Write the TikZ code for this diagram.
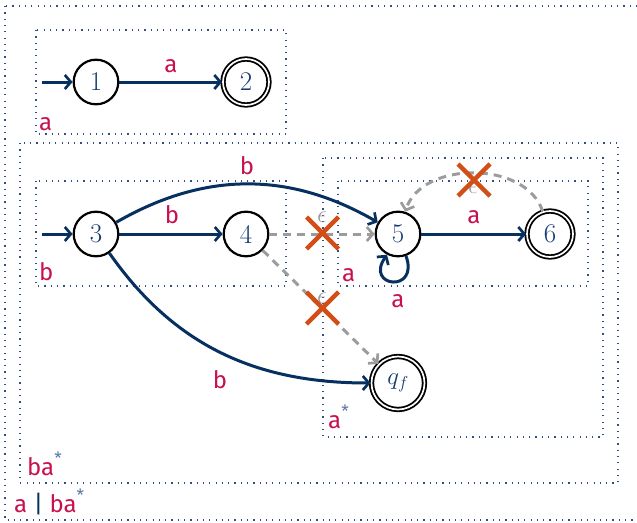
\documentclass[tikz,border=0pt]{standalone}
\usepackage{fontspec}
\newfontfamily\lblfont{Fira Sans}
\usetikzlibrary{arrows.meta}
\definecolor{navy}{HTML}{06305F}
\definecolor{nodetext}{HTML}{153E70}
\definecolor{lblred}{HTML}{C8104C}
\definecolor{crossorange}{HTML}{D24E16}
\definecolor{epsgray}{HTML}{9C9C9C}
\definecolor{boxdot}{HTML}{2F5080}
\definecolor{starblue}{HTML}{5A7AA4}
\tikzset{
  x=1pt, y=-1pt,
  tip/.style={-{Straight Barb[length=6pt,width=14pt,line width=2.7pt]}},
  state/.style={circle, draw=black, line width=2.2pt, minimum size=44.6pt, inner sep=0pt,
    text=nodetext, font=\fontsize{27}{30}\selectfont},
  accept/.style={state, line width=1.8pt, double=white, double distance=1.7pt, minimum size=46pt},
  trans/.style={navy, line width=3pt, tip},
  eps/.style={epsgray, line width=3pt, dash pattern=on 8pt off 6pt, tip},
  groupbox/.style={boxdot, line width=1.2pt, dash pattern=on 1.2pt off 5.1pt},
  lbl/.style={text=lblred, font=\lblfont\fontsize{24}{27}\selectfont, inner sep=0pt},
  epslbl/.style={text=epsgray, font=\fontsize{24}{26}\selectfont, inner sep=0pt},
  xmark/.style={crossorange, line width=4.5pt},
}
\newcommand{\strs}{\textcolor{starblue}{\raisebox{0.42em}{\fontsize{17}{18}\selectfont*}}}
\begin{document}
\begin{tikzpicture}
\useasboundingbox (0,0) rectangle (637,522);
% boxes
\draw[groupbox] (5,6) rectangle (645,520);
\draw[groupbox] (20,143) rectangle (618,483);
\draw[groupbox] (36,30) rectangle (286,134);
\draw[groupbox] (36,181) rectangle (286,286);
\draw[groupbox] (323,158) rectangle (603,437);
\draw[groupbox] (338,181) rectangle (588,286);
% box labels
\node[lbl, anchor=base west] (la) at (39,130) {a};
\node[lbl, anchor=base west] (lb) at (39,280) {b};
\node[lbl, anchor=base west] (la2) at (342,281) {a};
\node[lbl, anchor=base west] (last) at (328,428) {a\strs};
\node[lbl, anchor=base west] (lbast) at (27,475) {ba\strs};
\node[lbl, anchor=base west] (lall) at (14,512) {a \textcolor{navy}{|} ba\strs};
% states
\node[state] (n1) at (96,82) {1};
\node[accept] (n2) at (246,82) {2};
\node[state] (n3) at (96,234) {3};
\node[state] (n4) at (246,234) {4};
\node[state] (n5) at (398,234) {5};
\node[accept] (n6) at (550,234) {6};
\node[accept, minimum size=53pt] (qf) at (398,383) {$q_f$};
\coordinate (i1) at (42,82);
\coordinate (i3) at (42,234);
% transitions
\draw[trans] (i1) -- (n1);
\draw[trans] (i3) -- (n3);
\draw[trans] (n1) -- (n2);
\draw[trans] (n3) -- (n4);
\draw[trans] (n3) to[bend left=30] (n5);
\draw[trans] (n3) to[out=-55,in=180] (qf);
\draw[trans] (n5) -- (n6);
\draw[trans] (n5.-70) .. controls +(70:40) and +(125:40) .. (n5.-118);
% epsilon transitions
\draw[eps] (n4) -- (n5);
\draw[eps] (n4) -- (qf);
\draw[eps] (n6) to[out=108,in=72] (n5);
% edge labels
\node[lbl, anchor=base] (e12) at (171,72) {a};
\node[lbl, anchor=base] (e34) at (172,223) {b};
\node[lbl, anchor=base] (e35) at (247,174) {b};
\node[lbl, anchor=base] (e3f) at (220,388) {b};
\node[lbl, anchor=base] (e56) at (474,223) {a};
\node[lbl, anchor=base] (e55) at (398,307) {a};
\node[epslbl] (eps1) at (322,217) {$\epsilon$};
\node[epslbl] (eps2) at (322,298) {$\epsilon$};
\node[epslbl] (eps3) at (473,188) {$\epsilon$};
% crosses
\foreach \cx/\cy in {322.5/233, 322.5/308, 474/180}{
  \draw[xmark] (\cx-16,\cy-16) -- (\cx+16,\cy+16);
  \draw[xmark] (\cx-16,\cy+16) -- (\cx+16,\cy-16);
}
\end{tikzpicture}
\end{document}
